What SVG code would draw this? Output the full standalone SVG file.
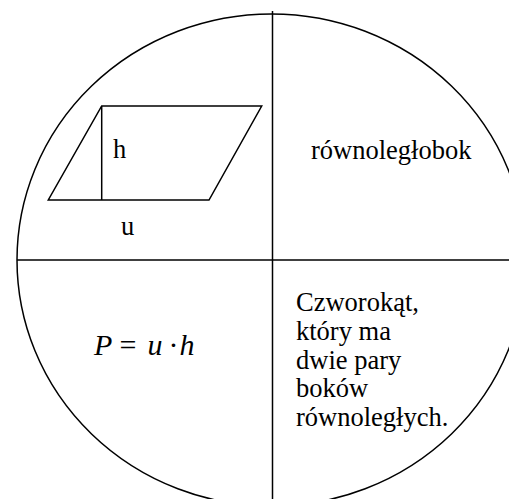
<svg xmlns="http://www.w3.org/2000/svg" width="509" height="499" viewBox="0 0 509 499">
<style>
.ln{fill:none;stroke:#000;stroke-width:1.5}
.t{font-family:"Liberation Serif","Times New Roman",serif;font-size:26.5px;fill:#000}
.f{font-family:"Liberation Serif","Times New Roman",serif;font-size:30px;fill:#000}
.i{font-style:italic}
</style>
<rect width="509" height="499" fill="#fff"/>
<g id="circle"><ellipse class="ln" cx="271.5" cy="260" rx="254.5" ry="246"/></g>
<g id="connectors">
<line class="ln" x1="272.5" y1="11" x2="272.5" y2="499"/>
<line class="ln" x1="17" y1="260" x2="509" y2="260"/>
</g>
<g id="figure">
<polygon class="ln" points="101.7,106 261.7,106 209,200 48.3,200"/>
<line class="ln" x1="101.7" y1="106" x2="101.7" y2="200"/>
<text class="t" x="113" y="158">h</text>
<text class="t" x="121" y="235">u</text>
</g>
<g id="name"><text class="t" x="311" y="158.5">równoległobok</text></g>
<g id="formula">
<text class="f i" x="94" y="355">P</text>
<text class="f" x="119.5" y="355">=</text>
<text class="f i" x="147.5" y="355">u</text>
<text class="f" x="168.5" y="355">·</text>
<text class="f i" x="179.5" y="355">h</text>
</g>
<g id="definition">
<text class="t" x="296" y="311">Czworokąt,</text>
<text class="t" x="296" y="340">który ma</text>
<text class="t" x="296" y="368.5">dwie pary</text>
<text class="t" x="296" y="397">boków</text>
<text class="t" x="296" y="425.5">równoległych.</text>
</g>
</svg>
